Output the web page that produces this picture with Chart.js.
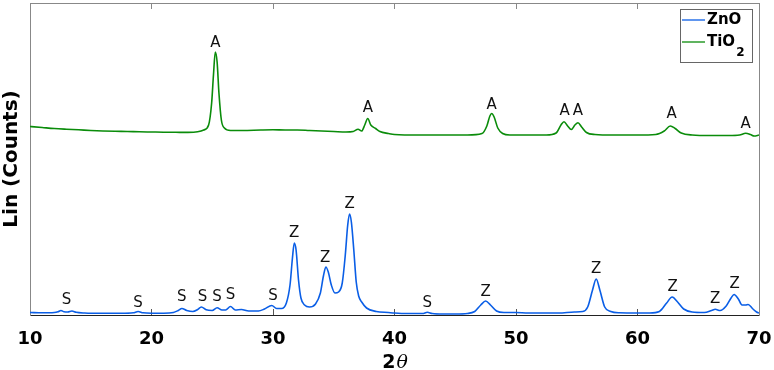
<!DOCTYPE html>
<html><head><meta charset="utf-8">
<script src="https://cdn.jsdelivr.net/npm/chart.js@4"></script>
<style>html,body{margin:0;padding:0;background:#fff}canvas{display:block}</style>
</head><body>
<canvas id="c" width="774" height="370"></canvas>
<script>
// ---- data (2θ in degrees, intensity in arbitrary Lin counts, TiO2 trace offset upward) ----
const seriesNames = ['ZnO', 'TiO2'];
const seriesColors = ['#0a5ee6', '#0a8c0a'];
const xTicks = [10, 20, 30, 40, 50, 60, 70];

const znoX = [10.0,11.0,12.0,12.3,12.55,12.8,13.1,13.45,13.8,14.5,16,17.5,18.5,18.9,19.3,20,21,21.8,22.2,22.5,22.9,23.4,23.8,24.1,24.5,25.0,25.4,25.8,26.1,26.5,26.9,27.4,28.0,28.8,29.3,29.9,30.3,30.7,31.1,31.4,31.6,31.75,31.9,32.1,32.3,32.6,33.0,33.5,33.9,34.15,34.35,34.55,34.8,35.1,35.4,35.7,35.95,36.15,36.3,36.45,36.65,36.85,37.05,37.3,37.7,38.5,39.5,40,41,42.3,42.7,43.1,44,45,46,46.6,47.1,47.5,47.9,48.4,49,50,51,52.5,53.5,54.8,55.5,55.9,56.3,56.6,56.9,57.3,57.8,58.5,60,61,61.8,62.4,62.85,63.3,63.8,64.5,65.5,66.1,66.4,66.8,67.3,67.7,67.95,68.3,68.6,68.9,69.1,69.5,69.8,70];
const znoY = [2.5,2.2,2.5,3.2,4.5,3.2,3,4,2.7,2,1.7,1.7,2.2,3.5,2.2,1.8,1.8,2.5,4.5,6.5,4.5,3.5,5.5,8,5.2,4.5,7.2,5,5,8.5,5,5.5,4,4,6,9.5,6.5,6.5,12,30,57,72,65,35,17,10,8,11,22,39,48,43,30,22,23,32,60,90,101,93,65,33,19,13,7,3.5,2.5,2,1.5,1.5,2.7,1.5,1,1,1.5,3.5,10,14,10,4,2.5,2.5,2,2,2,3,3.5,8,25,36,25,8,3.5,2.2,2,2,3.5,12,18,13,6,3,2.5,4.5,5.7,4.5,9,17,20.5,16,10,10,10.5,6,3,2];

const tioX = [10,11,12,13,14,15,16,17,18,19,20,21,22,23,23.8,24.3,24.7,24.95,25.1,25.25,25.4,25.55,25.75,26.0,26.5,27.5,29,30,31,32,33,34,35,36,36.6,37.0,37.3,37.55,37.8,38.05,38.45,38.8,39.5,40,42,44,46,47.2,47.6,47.85,48.0,48.2,48.5,48.9,49.5,51,52.5,53.3,53.7,53.95,54.25,54.55,54.85,55.1,55.4,55.8,56.5,58,60,61.5,62.2,62.7,63.1,63.6,64.5,66,67.5,68.4,68.9,69.3,69.6,70];
const tioY = [188.5,187.5,186.5,185.8,185.2,184.5,184,183.7,183.5,183.2,183,182.8,182.7,182.6,183.2,185,190,212,240,263,253,222,195,187,184.5,184.5,185,185.2,185,185,184.5,184,183.5,183,183.5,185.7,184,190,196.5,190,186.5,183.5,181.5,180.5,180,180,180,181.5,189,199,201.5,198,187,181.5,180,180,180,182,190,193.3,189,185.5,190,192.2,188,182.5,180.5,180,180,180.5,184,189,186.5,182,180,179.5,179.5,180,181.7,180.5,179,180];

// peak markers: A = anatase (TiO2), Z = ZnO, S = secondary phase
const aLabelX = [25.25, 37.8, 48.0, 54.0, 55.1, 62.8, 68.9];
const aLabelY = [272, 207, 210, 204, 204, 201, 191];
const zLabelX = [31.75, 34.3, 36.3, 47.5, 56.6, 62.9, 66.4, 68.0];
const zLabelY = [82, 57, 111, 23, 46, 28, 16, 31];
const sLabelX = [13.0, 18.9, 22.5, 24.2, 25.4, 26.5, 30.0, 42.7];
const sLabelY = [15, 12, 18, 18, 18, 20, 19, 12];

const FONT = 'DejaVu Sans';

const peakLabelPlugin = {
  id: 'peakLabels',
  afterDatasetsDraw(chart) {
    const {ctx, scales: {x, y}} = chart;
    ctx.save();
    ctx.font = '15px "' + FONT + '"';
    ctx.fillStyle = '#111';
    ctx.textAlign = 'center';
    ctx.textBaseline = 'middle';
    const groups = [['A', aLabelX, aLabelY], ['Z', zLabelX, zLabelY], ['S', sLabelX, sLabelY]];
    for (const [t, xs, ys] of groups) {
      xs.forEach((v, i) => ctx.fillText(t, x.getPixelForValue(v), y.getPixelForValue(ys[i])));
    }
    ctx.restore();
  }
};

const legendPlugin = {
  id: 'boxLegend',
  afterDraw(chart) {
    const {ctx, chartArea} = chart;
    const w = 72, h = 53;
    const left = chartArea.right - 7 - w, top = chartArea.top + 6;
    ctx.save();
    ctx.fillStyle = '#fff';
    ctx.fillRect(left, top, w, h);
    ctx.strokeStyle = '#666';
    ctx.lineWidth = 1;
    ctx.strokeRect(left + 0.5, top + 0.5, w, h);
    chart.data.datasets.forEach((ds, i) => {
      const cy = top + 11 + i * 22;
      ctx.strokeStyle = ds.borderColor;
      ctx.lineWidth = 1.3;
      ctx.beginPath();
      ctx.moveTo(left + 2, cy);
      ctx.lineTo(left + 25, cy);
      ctx.stroke();
      ctx.fillStyle = '#000';
      ctx.textAlign = 'left';
      ctx.textBaseline = 'middle';
      ctx.font = 'bold 15px "' + FONT + '"';
      const m = /^(.*?)(\d+)$/.exec(ds.label);
      const main = m ? m[1] : ds.label;
      ctx.fillText(main, left + 27, cy);
      if (m) {
        const wMain = ctx.measureText(main).width;
        ctx.font = 'bold 12px "' + FONT + '"';
        ctx.fillText(m[2], left + 27 + wMain + 1, cy + 11);
      }
    });
    ctx.restore();
  }
};

const xTitlePlugin = {
  id: 'xTitle',
  afterDraw(chart) {
    const {ctx, chartArea} = chart;
    const cx = (chartArea.left + chartArea.right) / 2;
    ctx.save();
    ctx.fillStyle = '#000';
    ctx.textBaseline = 'alphabetic';
    ctx.textAlign = 'left';
    ctx.font = 'bold 19px "' + FONT + '"';
    const w1 = ctx.measureText('2').width;
    ctx.font = 'italic 19px "DejaVu Serif"';
    const w2 = ctx.measureText('θ').width;
    const x0 = cx - (w1 + w2) / 2;
    ctx.font = 'bold 19px "' + FONT + '"';
    ctx.fillText('2', x0, 368);
    ctx.font = 'italic 19px "DejaVu Serif"';
    ctx.fillText('θ', x0 + w1 + 1, 368);
    ctx.restore();
  }
};

const setTicks = s => { s.ticks = xTicks.map(v => ({value: v})); };

new Chart(document.getElementById('c'), {
  type: 'line',
  data: {
    datasets: [
      {label: seriesNames[0], data: znoX.map((v, i) => ({x: v, y: znoY[i]})), borderColor: seriesColors[0]},
      {label: seriesNames[1], data: tioX.map((v, i) => ({x: v, y: tioY[i]})), borderColor: seriesColors[1]}
    ].map(d => Object.assign(d, {borderWidth: 1.6, pointRadius: 0, fill: false, cubicInterpolationMode: 'monotone'}))
  },
  options: {
    responsive: false,
    animation: false,
    devicePixelRatio: 1,
    layout: {padding: 0},
    plugins: {legend: {display: false}, tooltip: {enabled: false}},
    scales: {
      x: {
        type: 'linear', position: 'bottom', min: 10, max: 70,
        afterBuildTicks: setTicks,
        afterFit: s => { s.height = 55; },
        ticks: {font: {family: FONT, size: 18, weight: 'bold', lineHeight: 3.1}, color: '#000', padding: 2, maxRotation: 0},
        grid: {drawOnChartArea: false, tickLength: -6, color: '#555'},
        border: {display: true, color: '#222', width: 1}
      },
      x2: {
        type: 'linear', position: 'top', min: 10, max: 70,
        afterBuildTicks: setTicks,
        afterFit: s => { s.height = 3; },
        ticks: {display: false},
        grid: {drawOnChartArea: false, tickLength: -6, color: '#888'},
        border: {display: true, color: '#888', width: 1}
      },
      y: {
        type: 'linear', position: 'left', min: 0, max: 312,
        afterFit: s => { s.width = 30; },
        ticks: {display: false},
        grid: {display: false},
        border: {display: true, color: '#888', width: 1},
        title: {display: true, text: 'Lin (Counts)', color: '#000',
                font: {family: FONT, size: 20, weight: 'bold', lineHeight: 1.15}, padding: {top: 0, bottom: 0}}
      },
      y2: {
        type: 'linear', position: 'right', min: 0, max: 312,
        afterFit: s => { s.width = 15; },
        ticks: {display: false},
        grid: {display: false},
        border: {display: true, color: '#888', width: 1}
      }
    }
  },
  plugins: [peakLabelPlugin, legendPlugin, xTitlePlugin]
});
</script>
</body></html>
